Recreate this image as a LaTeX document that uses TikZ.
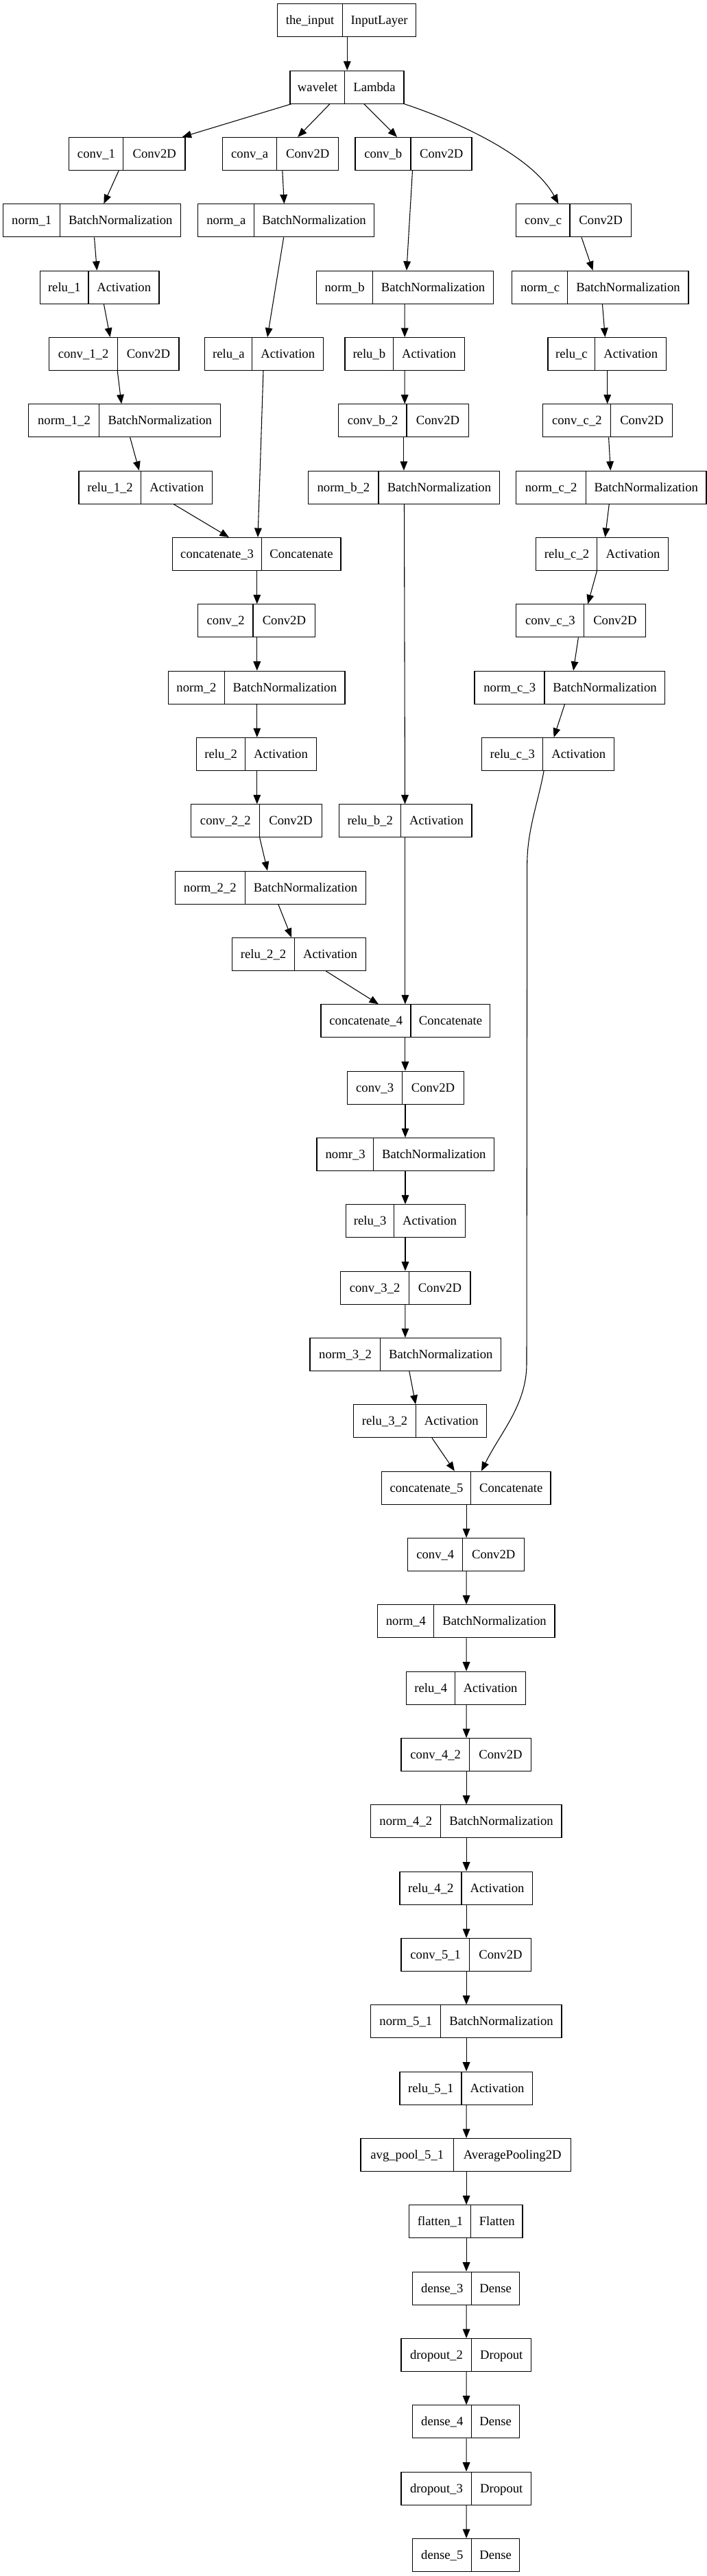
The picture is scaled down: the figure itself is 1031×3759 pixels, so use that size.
\documentclass[tikz,border=0pt]{standalone}
\usepackage{fontspec}
\setmainfont{Liberation Serif}
\usetikzlibrary{arrows.meta,calc}
\makeatletter
\newcommand\layer[7]{% name, x1, xdiv, x2, row, label, type
  \pgfmathsetmacro\lyc{29.8+97.33*#5}%
  \pgfmathsetmacro\lcx{(#2+#4)/2}%
  \expandafter\xdef\csname cx@#1\endcsname{\lcx}%
  \node[box, minimum width={(#4-#2)*0.75pt}] (#1) at (\lcx,\lyc) {};
  \draw[divline] ($(#1.north west)+(#3-#2,0)$) -- ($(#1.south west)+(#3-#2,0)$);
  \node[lbl] (#1-l) at ({(#2+#3)/2},\lyc+6) {#6};
  \node[lbl] (#1-t) at ({(#3+#4)/2},\lyc+6) {#7};
}
\newcommand\shiftof[3]{\pgfmathsetmacro#1{(#3-\csname cx@#2\endcsname)*0.75}}
\newcommand\edge[4]{%
  \shiftof\esa{#1}{#2}\shiftof\esb{#3}{#4}%
  \draw[arr] ([xshift=\esa pt]#1.south) -- ([xshift=\esb pt]#3.north);}
\makeatother
\begin{document}
\begin{tikzpicture}[x=0.75pt,y=-0.75pt,
  box/.style={draw=black, line width=0.8pt, minimum height=36pt, inner sep=0pt},
  divline/.style={line width=0.8pt},
  lbl/.style={anchor=base, inner sep=0pt, font=\fontsize{14pt}{16pt}\selectfont},
  arr/.style={line width=0.8pt, -{Triangle[length=10pt,width=8pt]}}]
\fill[white] (0,0) rectangle (1031,3759);
\useasboundingbox (0,0) rectangle (1031,3759);

\layer{input}{404.5}{499.7}{606.7}{0}{the\_input}{InputLayer}
\layer{wavelet}{423}{503}{589}{1}{wavelet}{Lambda}
\layer{conv1}{100.5}{180.4}{270}{2}{conv\_1}{Conv2D}
\layer{conva}{324.5}{403.8}{493.7}{2}{conv\_a}{Conv2D}
\layer{convb}{518}{599.5}{688}{2}{conv\_b}{Conv2D}
\layer{norm1}{4.6}{87.9}{263.7}{3}{norm\_1}{BatchNormalization}
\layer{norma}{288.8}{370.8}{545.3}{3}{norm\_a}{BatchNormalization}
\layer{convc}{752.8}{831.5}{920.7}{3}{conv\_c}{Conv2D}
\layer{relu1}{58.2}{129.5}{232}{4}{relu\_1}{Activation}
\layer{normb}{461.3}{544}{719.1}{4}{norm\_b}{BatchNormalization}
\layer{normc}{746.9}{828.2}{1004}{4}{norm\_c}{BatchNormalization}
\layer{conv12}{71.4}{171.8}{261}{5}{conv\_1\_2}{Conv2D}
\layer{relua}{298.7}{368.1}{471.3}{5}{relu\_a}{Activation}
\layer{relub}{503}{573.7}{677.5}{5}{relu\_b}{Activation}
\layer{reluc}{799}{867.8}{971.6}{5}{relu\_c}{Activation}
\layer{norm12}{41.6}{145.4}{321.2}{6}{norm\_1\_2}{BatchNormalization}
\layer{convb2}{493.7}{593.5}{683.4}{6}{conv\_b\_2}{Conv2D}
\layer{convc2}{791.8}{891}{980.8}{6}{conv\_c\_2}{Conv2D}
\layer{relu12}{115}{206.2}{309.3}{7}{relu\_1\_2}{Activation}
\layer{normb2}{449.4}{552.5}{728.4}{7}{norm\_b\_2}{BatchNormalization}
\layer{normc2}{752.8}{854.6}{1030}{7}{norm\_c\_2}{BatchNormalization}
\layer{concat3}{251.2}{382}{497}{8}{concatenate\_3}{Concatenate}
\layer{reluc2}{781.9}{871.1}{974.9}{8}{relu\_c\_2}{Activation}
\layer{conv2}{288.8}{369.5}{459.3}{9}{conv\_2}{Conv2D}
\layer{convc3}{752.8}{852}{941.8}{9}{conv\_c\_3}{Conv2D}
\layer{norm2}{245.2}{327.8}{503}{10}{norm\_2}{BatchNormalization}
\layer{normc3}{692}{794.5}{969.6}{10}{norm\_c\_3}{BatchNormalization}
\layer{relu2}{286.8}{357.6}{461.3}{11}{relu\_2}{Activation}
\layer{reluc3}{702.6}{791.8}{895.6}{11}{relu\_c\_3}{Activation}
\layer{conv22}{278.9}{378.7}{469.3}{12}{conv\_2\_2}{Conv2D}
\layer{relub2}{494.4}{585}{688}{12}{relu\_b\_2}{Activation}
\layer{norm22}{255.1}{357.6}{533.4}{13}{norm\_2\_2}{BatchNormalization}
\layer{relu22}{338.4}{429.6}{533.4}{14}{relu\_2\_2}{Activation}
\layer{concat4}{468}{599.5}{714.5}{15}{concatenate\_4}{Concatenate}
\layer{conv3}{506.3}{586.9}{676.1}{16}{conv\_3}{Conv2D}
\layer{nomr3}{462}{545.3}{720.4}{17}{nomr\_3}{BatchNormalization}
\layer{relu3}{504.3}{575}{678.1}{18}{relu\_3}{Activation}
\layer{conv32}{496.4}{596.8}{686}{19}{conv\_3\_2}{Conv2D}
\layer{norm32}{452}{555.2}{730.3}{20}{norm\_3\_2}{BatchNormalization}
\layer{relu32}{515.5}{606.7}{709.8}{21}{relu\_3\_2}{Activation}
\layer{concat5}{556.5}{687.4}{803}{22}{concatenate\_5}{Concatenate}
\layer{conv4}{594.8}{674.8}{764.7}{23}{conv\_4}{Conv2D}
\layer{norm4}{550.6}{633.2}{809}{24}{norm\_4}{BatchNormalization}
\layer{relu4}{592.9}{663.6}{766.7}{25}{relu\_4}{Activation}
\layer{conv42}{585}{685.4}{774.6}{26}{conv\_4\_2}{Conv2D}
\layer{norm42}{540.6}{643.1}{819}{27}{norm\_4\_2}{BatchNormalization}
\layer{relu42}{583}{673.5}{776.6}{28}{relu\_4\_2}{Activation}
\layer{conv51}{585}{685.4}{774.6}{29}{conv\_5\_1}{Conv2D}
\layer{norm51}{540.6}{643.1}{819}{30}{norm\_5\_1}{BatchNormalization}
\layer{relu51}{583}{673.5}{776.6}{31}{relu\_5\_1}{Activation}
\layer{avgpool}{526}{661.6}{832.8}{32}{avg\_pool\_5\_1}{AveragePooling2D}
\layer{flatten}{596.8}{687.4}{762}{33}{flatten\_1}{Flatten}
\layer{dense3}{601.5}{688}{757.4}{34}{dense\_3}{Dense}
\layer{dropout2}{585}{688}{774.6}{35}{dropout\_2}{Dropout}
\layer{dense4}{601.5}{688}{757.4}{36}{dense\_4}{Dense}
\layer{dropout3}{585}{688}{774.6}{37}{dropout\_3}{Dropout}
\layer{dense5}{601.5}{688}{757.4}{38}{dense\_5}{Dense}

\edge{input}{506.3}{wavelet}{506.3}
\edge{wavelet}{425}{conv1}{265.7}
\edge{wavelet}{481}{conva}{434.2}
\edge{wavelet}{530.7}{convb}{579}
\shiftof\csb{convc}{814.3}
\draw[arr] (wavelet.south east) .. controls (660,175) and (775,225) .. ([xshift=\csb pt]convc.north);
\edge{conv1}{173.2}{norm1}{151.4}
\edge{conva}{411.8}{norma}{414.4}
\edge{convb}{601.5}{normb}{592.9}
\edge{norm1}{137.5}{relu1}{141.4}
\edge{norma}{413.7}{relua}{390}
\edge{convc}{848}{normc}{864.5}
\edge{relu1}{151.4}{conv12}{160.6}
\edge{normb}{590.2}{relub}{590.2}
\edge{normc}{878.4}{reluc}{882.4}
\edge{conv12}{171.2}{norm12}{177.1}
\edge{relua}{384}{concat3}{376}
\edge{relub}{590.2}{convb2}{590.2}
\edge{reluc}{885.7}{convc2}{885.7}
\edge{norm12}{189.7}{relu12}{202.9}
\edge{convb2}{588.9}{normb2}{588.9}
\edge{convc2}{887.6}{normc2}{890.3}
\edge{relu12}{253.1}{concat3}{333.8}
\edge{normb2}{589.5}{relub2}{590.5}
\edge{normc2}{888.3}{reluc2}{882.4}
\edge{concat3}{374.8}{conv2}{374.8}
\edge{reluc2}{870.5}{convc3}{857.2}
\edge{conv2}{374.8}{norm2}{374.8}
\edge{convc3}{843.4}{normc3}{836.1}
\edge{norm2}{374.8}{relu2}{374.8}
\edge{normc3}{823.5}{reluc3}{807.7}
\edge{relu2}{374.8}{conv22}{374.8}
\shiftof\cra{reluc3}{793.1}\shiftof\crb{concat5}{702}
\draw[arr] ([xshift=\cra pt]reluc3.south) .. controls (785,1170) and (769,1210) .. (768.7,1260)
  -- (768,1990) .. controls (768,2050) and (730,2090) .. ([xshift=\crb pt]concat5.north);
\edge{conv22}{378.7}{norm22}{390}
\edge{relub2}{590.9}{concat4}{590.9}
\edge{norm22}{405.8}{relu22}{425}
\edge{relu22}{475.2}{concat4}{551.9}
\edge{concat4}{590.9}{conv3}{590.9}
\edge{conv3}{591}{nomr3}{591}
\edge{nomr3}{591}{relu3}{591}
\edge{relu3}{591}{conv32}{591}
\edge{conv32}{590.9}{norm32}{590.9}
\edge{norm32}{596.8}{relu32}{606.1}
\edge{relu32}{629.9}{concat5}{662.9}
\edge{concat5}{680.1}{conv4}{680.1}
\edge{conv4}{680.1}{norm4}{680.1}
\edge{norm4}{680.1}{relu4}{680.1}
\edge{relu4}{680.1}{conv42}{680.1}
\edge{conv42}{680.1}{norm42}{680.1}
\edge{norm42}{680.1}{relu42}{680.1}
\edge{relu42}{680.1}{conv51}{680.1}
\edge{conv51}{680.1}{norm51}{680.1}
\edge{norm51}{680.1}{relu51}{680.1}
\edge{relu51}{680.1}{avgpool}{680.1}
\edge{avgpool}{680.1}{flatten}{680.1}
\edge{flatten}{680.1}{dense3}{680.1}
\edge{dense3}{680.1}{dropout2}{680.1}
\edge{dropout2}{680.1}{dense4}{680.1}
\edge{dense4}{680.1}{dropout3}{680.1}
\edge{dropout3}{680.1}{dense5}{680.1}
\end{tikzpicture}
\end{document}
